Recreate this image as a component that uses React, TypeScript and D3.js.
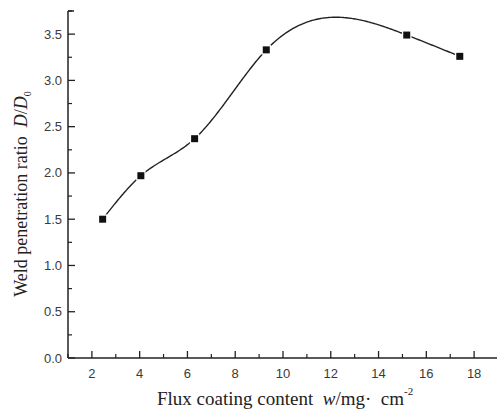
import React from "react";
import * as d3 from "d3";

const xValues = [2.45, 4.05, 6.3, 9.3, 15.18, 17.4];
const yValues = [1.5, 1.97, 2.37, 3.33, 3.49, 3.26];
const xTicks = [2, 4, 6, 8, 10, 12, 14, 16, 18];
const xMinorTicks = [1, 3, 5, 7, 9, 11, 13, 15, 17, 19];
const yTicks = [0, 0.5, 1.0, 1.5, 2.0, 2.5, 3.0, 3.5];
const yMinorTicks = [0.25, 0.75, 1.25, 1.75, 2.25, 2.75, 3.25, 3.75];

const W = 497;
const H = 412;

// natural cubic spline y(x) through the data points (Origin-style spline connection)
function naturalSpline(xs: number[], ys: number[]) {
  const n = xs.length;
  const h = xs.slice(1).map((v, i) => v - xs[i]);
  const a = new Array(n).fill(0);
  const b = new Array(n).fill(0);
  const c = new Array(n).fill(0);
  const r = new Array(n).fill(0);
  b[0] = 1;
  b[n - 1] = 1;
  for (let i = 1; i < n - 1; i++) {
    a[i] = h[i - 1];
    b[i] = 2 * (h[i - 1] + h[i]);
    c[i] = h[i];
    r[i] = 6 * ((ys[i + 1] - ys[i]) / h[i] - (ys[i] - ys[i - 1]) / h[i - 1]);
  }
  // Thomas algorithm
  const cp = new Array(n).fill(0);
  const rp = new Array(n).fill(0);
  cp[0] = c[0] / b[0];
  rp[0] = r[0] / b[0];
  for (let i = 1; i < n; i++) {
    const m = b[i] - a[i] * cp[i - 1];
    cp[i] = c[i] / m;
    rp[i] = (r[i] - a[i] * rp[i - 1]) / m;
  }
  const M = new Array(n).fill(0);
  M[n - 1] = rp[n - 1];
  for (let i = n - 2; i >= 0; i--) M[i] = rp[i] - cp[i] * M[i + 1];
  return (x: number) => {
    let i = 0;
    while (i < n - 2 && x > xs[i + 1]) i++;
    const hi = h[i];
    const t1 = xs[i + 1] - x;
    const t0 = x - xs[i];
    return (
      (M[i] * t1 * t1 * t1) / (6 * hi) +
      (M[i + 1] * t0 * t0 * t0) / (6 * hi) +
      (ys[i] / hi - (M[i] * hi) / 6) * t1 +
      (ys[i + 1] / hi - (M[i + 1] * hi) / 6) * t0
    );
  };
}

export default function App() {
  const x = d3.scaleLinear().domain([1, 19]).range([68, 498]);
  const y = d3.scaleLinear().domain([0, 3.75]).range([358, 11]);
  const f = naturalSpline(xValues, yValues);
  const x0 = xValues[0];
  const x1 = xValues[xValues.length - 1];
  const samples = d3.range(0, 301).map((k) => x0 + ((x1 - x0) * k) / 300);
  const line =
    d3
      .line<number>()
      .x((v) => x(v))
      .y((v) => y(f(v)))(samples) || "";
  const pts: [number, number][] = xValues.map((v, i) => [x(v), y(yValues[i])]);
  const tickColor = "#3a3a3a";
  return (
    <svg width={W} height={H} style={{ position: "absolute", left: 0, top: 0, background: "#fff" }}>
      <path d={line} fill="none" stroke="#222" strokeWidth={1.4} />
      {pts.map((p, i) => (
        <rect key={i} x={p[0] - 3.5} y={p[1] - 3.5} width={7} height={7} fill="#111" stroke="#fff" strokeWidth={2.5} paintOrder="stroke" />
      ))}
      {/* axes */}
      <line x1={x(1)} x2={x(1)} y1={y(3.75)} y2={y(0)} stroke="#222" strokeWidth={1.5} />
      <line x1={x(1)} x2={W} y1={y(0)} y2={y(0)} stroke="#222" strokeWidth={1.5} />
      <line x1={x(1)} x2={x(1) + 6} y1={y(3.75)} y2={y(3.75)} stroke="#222" strokeWidth={1.5} />
      {xTicks.map((t) => (
        <g key={"xt" + t}>
          <line x1={x(t)} x2={x(t)} y1={y(0)} y2={y(0) - 7} stroke="#222" strokeWidth={1.3} />
          <text x={x(t)} y={y(0) + 20} textAnchor="middle" fontFamily="Liberation Sans, Arial, sans-serif" fontSize={13} fill={tickColor}>
            {t}
          </text>
        </g>
      ))}
      {xMinorTicks.map((t) => (
        <line key={"xm" + t} x1={x(t)} x2={x(t)} y1={y(0)} y2={y(0) - 4} stroke="#222" strokeWidth={1.2} />
      ))}
      {yTicks.map((t) => (
        <g key={"yt" + t}>
          <line x1={x(1)} x2={x(1) + 7} y1={y(t)} y2={y(t)} stroke="#222" strokeWidth={1.3} />
          <text x={x(1) - 6} y={y(t) + 4.5} textAnchor="end" fontFamily="Liberation Sans, Arial, sans-serif" fontSize={13} fill={tickColor}>
            {t.toFixed(1)}
          </text>
        </g>
      ))}
      {yMinorTicks.map((t) => (
        <line key={"ym" + t} x1={x(1)} x2={x(1) + 4} y1={y(t)} y2={y(t)} stroke="#222" strokeWidth={1.2} />
      ))}
      {/* axis titles */}
      <text transform="translate(27,194) rotate(-90)" textAnchor="middle" fontFamily="Liberation Serif, Times New Roman, serif" fontSize={18} fill="#222">
        Weld penetration ratio{"\u00a0\u00a0"}
        <tspan fontStyle="italic">D</tspan>/<tspan fontStyle="italic">D</tspan>
        <tspan fontSize={10} dy={4}>0</tspan>
      </text>
      <text x={157} y={405} textAnchor="start" fontFamily="Liberation Serif, Times New Roman, serif" fontSize={19} fill="#222">
        Flux coating content{"\u00a0\u00a0"}
        <tspan fontStyle="italic">w</tspan>/mg·{"\u00a0\u00a0"}cm
        <tspan fontSize={11} dy={-10}>-2</tspan>
      </text>
    </svg>
  );
}
